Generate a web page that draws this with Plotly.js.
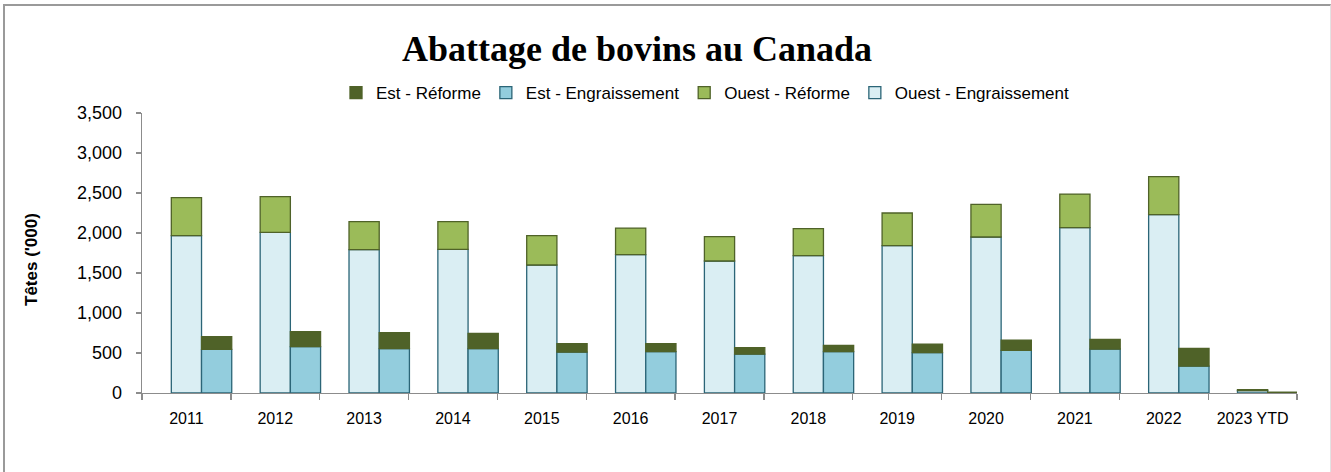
<!DOCTYPE html>
<html>
<head>
<meta charset="utf-8">
<script src="https://cdn.plot.ly/plotly-3.0.1.min.js"></script>
<style>
  html, body { margin: 0; padding: 0; background: #fff; }
  #wrap { position: relative; width: 1331px; height: 472px; overflow: hidden; }
  #chart { position: absolute; left: 0; top: 0; width: 1331px; height: 472px; }
  #frame { position: absolute; left: 3px; top: 4px; width: 1325px; height: 480px;
           border-top: 2px solid #9a9a9a; border-left: 2px solid #9a9a9a; border-right: 1px solid #e2e2e2;
           pointer-events: none; }
</style>
</head>
<body>
<div id="wrap">
  <div id="chart"></div>
  <div id="frame"></div>
</div>
<script>
// Data (thousands of head)
const years = ["2011","2012","2013","2014","2015","2016","2017","2018","2019","2020","2021","2022","2023 YTD"];
const ouestEngraissement = [1966, 2008, 1792, 1796, 1600, 1729, 1650, 1717, 1842, 1950, 2067, 2229, 30];
const ouestReforme       = [ 475,  446,  350,  346,  366,  333,  304,  337,  408,  408,  420,  475, 12];
const estEngraissement   = [ 546,  579,  554,  554,  512,  517,  487,  517,  504,  533,  550,  337,  5];
const estReforme         = [ 158,  187,  200,  192,  105,  100,   80,   79,  108,  129,  121,  221,  5];

const W = 0.34;
const tealLine = '#2b6577';
const oliveLine = '#4f6228';

const traces = [
  { type: 'bar', name: 'Ouest - Engraissement', x: years, y: ouestEngraissement,
    offset: -W/2, width: W, legendrank: 4,
    marker: { color: '#daeef3', line: { color: tealLine, width: 1.3 } } },
  { type: 'bar', name: 'Ouest - Réforme', x: years, y: ouestReforme, base: ouestEngraissement,
    offset: -W/2, width: W, legendrank: 3,
    marker: { color: '#9bbb59', line: { color: oliveLine, width: 1.3 } } },
  { type: 'bar', name: 'Est - Engraissement', x: years, y: estEngraissement,
    offset: W/2, width: W, legendrank: 2,
    marker: { color: '#93cddd', line: { color: tealLine, width: 1.3 } } },
  { type: 'bar', name: 'Est - Réforme', x: years, y: estReforme, base: estEngraissement,
    offset: W/2, width: W, legendrank: 1,
    marker: { color: '#4f6228', line: { color: oliveLine, width: 1.3 } } }
];

const font = 'Liberation Sans, Arial, sans-serif';

const layout = {
  width: 1331, height: 472,
  margin: { l: 142, r: 34, t: 113, b: 79 },
  paper_bgcolor: '#ffffff', plot_bgcolor: '#ffffff',
  barmode: 'overlay',
  showlegend: true,
  title: {
    text: 'Abattage de bovins au Canada',
    font: { family: 'Liberation Serif, Times New Roman, serif', size: 36, color: '#000', weight: 'bold' },
    x: 637/1331, xref: 'container', xanchor: 'center',
    y: 1 - 48/472, yref: 'container', yanchor: 'middle'
  },
  legend: {
    orientation: 'h', xref: 'container', yref: 'container',
    x: 705/1331, xanchor: 'center', y: 1 - 93/472, yanchor: 'middle',
    font: { family: font, size: 17, color: '#000' },
    itemwidth: 30, traceorder: 'normal', bgcolor: 'rgba(0,0,0,0)'
  },
  xaxis: {
    type: 'category', categoryorder: 'array', categoryarray: years,
    range: [-0.5, years.length - 0.5],
    showline: true, linecolor: '#8c8c8c', linewidth: 1.3,
    ticks: 'outside', tickson: 'boundaries', ticklen: 6, tickcolor: '#8c8c8c', tickwidth: 1.3,
    tickfont: { family: font, size: 16, color: '#000' },
    ticklabelstandoff: 10,
    showgrid: false, zeroline: false, fixedrange: true
  },
  yaxis: {
    range: [0, 3500], dtick: 500, tick0: 0, tickformat: ',d',
    showline: true, linecolor: '#8c8c8c', linewidth: 1.3,
    ticks: 'outside', ticklen: 5, tickcolor: '#8c8c8c', tickwidth: 1.3,
    tickfont: { family: font, size: 18, color: '#000' },
    ticklabelstandoff: 10,
    showgrid: false, zeroline: false, fixedrange: true
  },
  annotations: [{
    text: "<b>Têtes ('000)</b>", textangle: -90,
    xref: 'paper', yref: 'paper', x: (31 - 142) / 1155, y: (393 - 260) / 280,
    xanchor: 'center', yanchor: 'middle', showarrow: false,
    font: { family: font, size: 17, color: '#000' }
  }]
};

Plotly.newPlot('chart', traces, layout, { displayModeBar: false, staticPlot: true });
</script>
</body>
</html>
